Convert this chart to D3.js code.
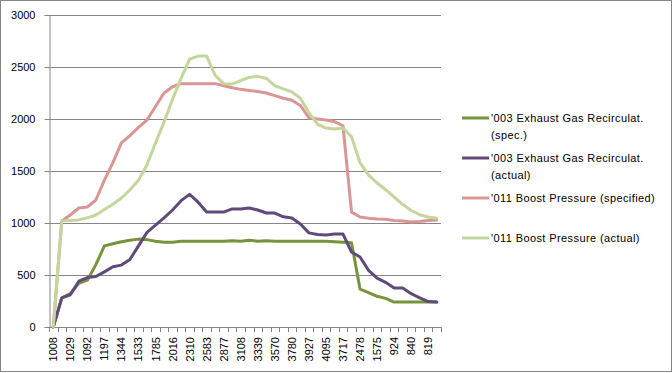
<!DOCTYPE html>
<html><head><meta charset="utf-8">
<script src="https://cdn.jsdelivr.net/npm/d3@7/dist/d3.min.js"></script>
<style>
html,body{margin:0;padding:0;background:#fff;}
svg{display:block;}
text{font-family:"Liberation Sans",Arial,sans-serif;}
</style></head>
<body>
<svg id="chart" width="672" height="373"></svg>
<script>
// visible x tick labels (every other category)
const xLabels = ["1008","1029","1092","1197","1344","1533","1785","2016","2310","2583","2877","3108","3339","3570","3780","3927","4095","3717","2478","1575","924","840","819"];
const nCategories = 46;
const yTicks = [0,500,1000,1500,2000,2500,3000];

const seriesNames = ["'003 Exhaust Gas Recirculat. (spec.)","'003 Exhaust Gas Recirculat. (actual)","'011 Boost Pressure (specified)","'011 Boost Pressure (actual)"];
const legendLines = [["'003 Exhaust Gas Recirculat.","(spec.)"],["'003 Exhaust Gas Recirculat.","(actual)"],["'011 Boost Pressure (specified)"],["'011 Boost Pressure (actual)"]];
const seriesColors = ["#77933C","#604A7B","#D99694","#C3D69B"];

const egrSpec = [0,280,320,420,450,600,780,800,820,835,845,840,825,815,815,825,825,825,825,825,825,830,825,835,825,830,825,825,825,825,825,825,825,820,815,810,365,330,295,275,240,240,240,240,240,240];
const egrActual = [0,280,310,440,475,485,530,580,595,650,780,910,980,1050,1125,1215,1275,1200,1105,1105,1105,1135,1135,1144,1125,1096,1096,1060,1048,990,905,890,885,894,894,721,673,545,470,430,375,375,320,280,245,240];
const boostSpec = [0,1020,1077,1144,1154,1221,1413,1580,1770,1840,1920,1990,2120,2250,2310,2340,2340,2340,2340,2340,2320,2300,2285,2275,2265,2250,2225,2200,2180,2130,2010,2000,1990,1975,1935,1105,1058,1045,1038,1035,1025,1020,1010,1015,1025,1029];
const boostActual = [0,1020,1025,1030,1050,1077,1130,1180,1240,1320,1410,1560,1770,1970,2190,2390,2575,2605,2605,2420,2340,2336,2370,2400,2410,2390,2320,2290,2260,2200,2060,1950,1913,1904,1913,1830,1580,1460,1385,1320,1250,1180,1120,1080,1058,1045];
const allSeries = [egrSpec, egrActual, boostSpec, boostActual];

const svg = d3.select("#chart");
const gray = "#868686";

// outer border
svg.append("rect").attr("x",0.5).attr("y",0.5).attr("width",671).attr("height",371)
  .attr("fill","#fff").attr("stroke",gray).attr("stroke-width",1);

const x = d3.scaleBand().domain(d3.range(nCategories)).range([49,441]).padding(0);
const y = d3.scaleLinear().domain([0,3000]).range([327,15]);

// gridlines
svg.append("g").selectAll("line").data(yTicks.filter(v=>v>0)).join("line")
  .attr("x1",49).attr("x2",441)
  .attr("y1",d=>Math.round(y(d))+0.5).attr("y2",d=>Math.round(y(d))+0.5)
  .attr("stroke",gray).attr("stroke-width",1);

// y axis
const yAxis = svg.append("g").attr("transform","translate(49.5,0)")
  .call(d3.axisLeft(y).tickValues(yTicks).tickSize(5).tickPadding(9).tickFormat(d3.format("d")));
yAxis.select(".domain").attr("stroke",gray);
yAxis.selectAll(".tick line").attr("stroke",gray);
yAxis.selectAll(".tick").attr("transform",d=>`translate(0,${Math.round(y(d))+0.5})`);
yAxis.selectAll("text").attr("font-size",11).attr("fill","#000").attr("font-family","'Liberation Sans',Arial,sans-serif");

// x axis line
svg.append("line").attr("x1",49).attr("x2",441.5).attr("y1",327.5).attr("y2",327.5).attr("stroke",gray);
// x tick marks between categories
const boundaries = d3.range(nCategories+1).map(k=>x.range()[0]+k*x.step());
svg.append("g").selectAll("line").data(boundaries).join("line")
  .attr("x1",d=>Math.round(d)+0.5).attr("x2",d=>Math.round(d)+0.5)
  .attr("y1",327).attr("y2",332).attr("stroke",gray);
// x labels
svg.append("g").selectAll("text").data(xLabels).join("text")
  .attr("transform",(d,i)=>`translate(${x(i*2)+x.bandwidth()/2+4},337) rotate(-90)`)
  .attr("text-anchor","end").attr("font-size",11).attr("fill","#000").text(d=>d);

// lines
const line = d3.line().x((d,i)=>x(i)+x.bandwidth()/2).y(d=>y(d));
svg.append("g").selectAll("path").data(allSeries).join("path")
  .attr("d",d=>line(d)).attr("fill","none")
  .attr("stroke",(d,i)=>seriesColors[i]).attr("stroke-width",3)
  .attr("stroke-linejoin","round").attr("stroke-linecap","round");

// legend
const legendY = [118,158,198,238];
const lg = svg.append("g");
legendLines.forEach((lines,i)=>{
  const g = lg.append("g").attr("transform",`translate(0,${legendY[i]})`);
  g.append("line").attr("x1",462).attr("x2",489).attr("y1",0).attr("y2",0)
    .attr("stroke",seriesColors[i]).attr("stroke-width",3);
  lines.forEach((t,j)=>{
    g.append("text").attr("x",491).attr("y",4+j*17).attr("font-size",11)
      .attr("letter-spacing",0.4).attr("fill","#000").text(t);
  });
});
</script>
</body></html>
